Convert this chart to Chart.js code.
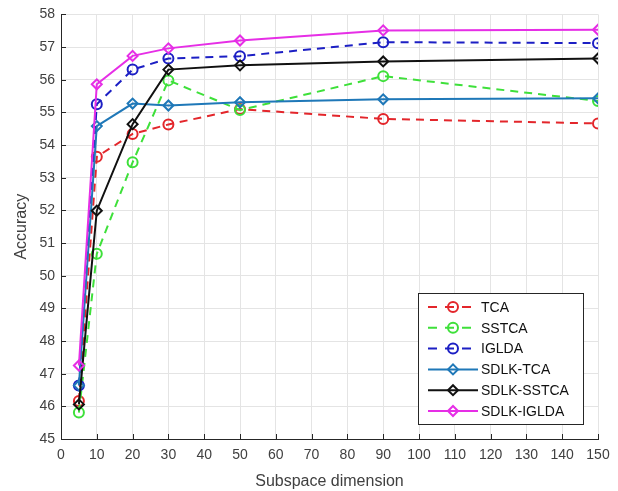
<!DOCTYPE html>
<html>
<head>
<meta charset="utf-8">
<script src="https://cdn.jsdelivr.net/npm/chart.js@4"></script>
<style>
	body { margin: 0; background: #fff; }
	canvas { display: block; }
</style>
</head>
<body>
<canvas id="chart" width="618" height="491"></canvas>
<script>
document.addEventListener('DOMContentLoaded', main);

// subspace dimensions on the x axis
let dims = [5, 10, 20, 30, 50, 90, 150];

// accuracy per method
let tca = [46.16, 53.64, 54.34, 54.63, 55.10, 54.80, 54.66];
let sstca = [45.81, 50.67, 53.47, 55.98, 55.07, 56.11, 55.35];
let iglda = [46.64, 55.25, 56.31, 56.65, 56.72, 57.15, 57.12];
let sdlkTca = [46.64, 54.58, 55.27, 55.21, 55.31, 55.40, 55.43];
let sdlkSstca = [46.06, 51.99, 54.64, 56.31, 56.44, 56.56, 56.65];
let sdlkIglda = [47.25, 55.86, 56.73, 56.96, 57.20, 57.51, 57.53];

let seriesNames = ['TCA', 'SSTCA', 'IGLDA', 'SDLK-TCA', 'SDLK-SSTCA', 'SDLK-IGLDA'];
let seriesColors = ['#e3262b', '#3ee03a', '#1c1fc4', '#1f78b8', '#111111', '#e62ee6'];

let font = 'Liberation Sans, Arial, sans-serif';
let textColor = '#404040';
let dash = [8, 6];

function makeDataset(i, values) {
	let dashed = i < 3;
	return {
		label: seriesNames[i],
		data: dims.map((d, j) => ({x: d, y: values[j]})),
		borderColor: seriesColors[i],
		borderWidth: 2,
		borderDash: dashed ? dash : [],
		pointStyle: dashed ? 'circle' : 'rectRot',
		pointRadius: dashed ? 5 : 5,
		pointBorderWidth: 2,
		pointBorderColor: seriesColors[i],
		pointBackgroundColor: 'rgba(0,0,0,0)',
		tension: 0,
		fill: false,
		order: 6 - i
	};
}

// inward tick marks like the original figure
let tickPlugin = {
	id: 'inTicks',
	afterDatasetsDraw(chart) {
		let ctx = chart.ctx;
		let area = chart.chartArea;
		let xs = chart.scales.x;
		let ys = chart.scales.y;
		ctx.save();
		ctx.strokeStyle = '#262626';
		ctx.lineWidth = 1;
		ctx.beginPath();
		for (let t of xs.ticks) {
			let px = Math.round(xs.getPixelForValue(t.value)) + 0.5;
			ctx.moveTo(px, area.bottom);
			ctx.lineTo(px, area.bottom - 5);
		}
		for (let t of ys.ticks) {
			let py = Math.round(ys.getPixelForValue(t.value)) + 0.5;
			ctx.moveTo(area.left, py);
			ctx.lineTo(area.left + 5, py);
		}
		ctx.stroke();
		ctx.restore();
	}
};

// legend box inside the plot, lower right
let legendPlugin = {
	id: 'boxLegend',
	afterDraw(chart) {
		let ctx = chart.ctx;
		let left = 418, top = 293, w = 165, h = 131;
		let rowH = 20.8;
		ctx.save();
		ctx.fillStyle = '#fff';
		ctx.fillRect(left, top, w, h);
		ctx.strokeStyle = '#262626';
		ctx.lineWidth = 1;
		ctx.strokeRect(left + 0.5, top + 0.5, w, h);
		chart.data.datasets.forEach((ds, i) => {
			let y = top + 14 + i * rowH;
			ctx.strokeStyle = ds.borderColor;
			ctx.lineWidth = 2;
			ctx.setLineDash(ds.borderDash.length ? [9, 8] : []);
			ctx.beginPath();
			ctx.moveTo(428, y);
			ctx.lineTo(478, y);
			ctx.stroke();
			ctx.setLineDash([]);
			ctx.fillStyle = 'rgba(0,0,0,0)';
			Chart.helpers.drawPoint(ctx, {
				pointStyle: ds.pointStyle,
				radius: 5,
				borderWidth: 2,
				rotation: 0
			}, 453, y);
			ctx.fillStyle = '#111';
			ctx.font = '14px ' + font;
			ctx.textBaseline = 'middle';
			ctx.fillText(ds.label, 481, y + 1);
		});
		ctx.restore();
	}
};

function main() {
	let ctx = document.getElementById('chart').getContext('2d');
	let all = [tca, sstca, iglda, sdlkTca, sdlkSstca, sdlkIglda];
	new Chart(ctx, {
		type: 'line',
		data: {
			datasets: all.map((v, i) => makeDataset(i, v))
		},
		options: {
			responsive: false,
			animation: false,
			layout: {
				padding: {top: 14, right: 20, left: 0, bottom: 0}
			},
			plugins: {
				legend: {display: false},
				tooltip: {enabled: false}
			},
			scales: {
				x: {
					type: 'linear',
					min: 0,
					max: 150,
					border: {color: '#262626', width: 1},
					grid: {color: '#e4e4e4', drawTicks: false},
					ticks: {
						stepSize: 10,
						padding: 8,
						color: textColor,
						font: {family: font, size: 14}
					},
					title: {
						display: true,
						text: 'Subspace dimension',
						color: textColor,
						font: {family: font, size: 16},
						padding: {top: 4, bottom: 0}
					},
					afterFit(scale) {
						scale.height = 52;
					}
				},
				y: {
					min: 45,
					max: 58,
					border: {color: '#262626', width: 1},
					grid: {color: '#e4e4e4', drawTicks: false},
					ticks: {
						stepSize: 1,
						padding: 6,
						color: textColor,
						font: {family: font, size: 14}
					},
					title: {
						display: true,
						text: 'Accuracy',
						color: textColor,
						font: {family: font, size: 16},
						padding: {top: 12, bottom: 0}
					},
					afterFit(scale) {
						scale.width = 61;
					}
				}
			}
		},
		plugins: [tickPlugin, legendPlugin]
	});
}
</script>
</body>
</html>
